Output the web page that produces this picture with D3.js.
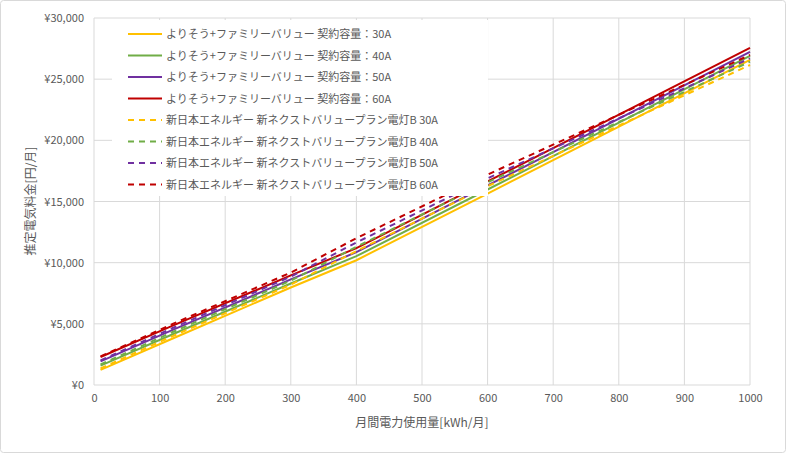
<!DOCTYPE html>
<html><head><meta charset="utf-8">
<script src="https://cdn.jsdelivr.net/npm/d3@7"></script>
<style>body{margin:0;background:#fff;font-family:"Noto Sans CJK JP","Noto Sans",sans-serif;}</style>
</head><body>
<svg id="c" width="786" height="453"></svg>
<script>
const xs = [10, 120, 300, 400, 600, 1000];
const solid30 = [1230, 3800, 7970, 10200, 15650, 26570];
const solid40 = [1580, 4150, 8300, 10530, 15980, 26900];
const solid50 = [1930, 4500, 8630, 10860, 16310, 27230];
const solid60 = [2290, 4850, 8960, 11190, 16640, 27550];
const dash30 = [1350, 4000, 8200, 10950, 16250, 26160];
const dash40 = [1680, 4330, 8530, 11300, 16570, 26430];
const dash50 = [2010, 4660, 8860, 11650, 16890, 26700];
const dash60 = [2340, 4990, 9190, 12000, 17200, 26980];
const names = ["よりそう+ファミリーバリュー 契約容量：30A","よりそう+ファミリーバリュー 契約容量：40A","よりそう+ファミリーバリュー 契約容量：50A","よりそう+ファミリーバリュー 契約容量：60A",
"新日本エネルギー 新ネクストバリュープラン電灯B 30A","新日本エネルギー 新ネクストバリュープラン電灯B 40A","新日本エネルギー 新ネクストバリュープラン電灯B 50A","新日本エネルギー 新ネクストバリュープラン電灯B 60A"];
const colors = ["#FFC000","#70AD47","#7030A0","#C00000"];
const series = [solid30,solid40,solid50,solid60,dash30,dash40,dash50,dash60];
const xTicks = d3.range(0,1001,100);
const yTicks = d3.range(0,30001,5000);

const svg = d3.select("#c");
svg.append("rect").attr("x",0.5).attr("y",0.5).attr("width",785).attr("height",452).attr("rx",3).attr("fill","#fff").attr("stroke","#d9d9d9");
const x = d3.scaleLinear().domain([0,1000]).range([94,750]);
const y = d3.scaleLinear().domain([0,30000]).range([385,18]);
const g = svg.append("g");
g.selectAll(".gx").data(xTicks).join("line").attr("x1",d=>x(d)).attr("x2",d=>x(d)).attr("y1",18).attr("y2",385).attr("stroke","#d9d9d9");
g.selectAll(".gy").data(yTicks).join("line").attr("x1",94).attr("x2",750).attr("y1",d=>y(d)).attr("y2",d=>y(d)).attr("stroke","#d9d9d9");
const ax = svg.append("g").attr("transform","translate(0,385)").call(d3.axisBottom(x).tickValues(xTicks).tickSize(0).tickPadding(9).tickFormat(d=>String(d)));
ax.select(".domain").remove();
const ay = svg.append("g").attr("transform","translate(94,0)").call(d3.axisLeft(y).tickValues(yTicks).tickSize(0).tickPadding(10).tickFormat(d=>"¥"+d3.format(",")(d)));
ay.select(".domain").remove();
svg.selectAll(".tick text").attr("fill","#595959").attr("font-size",11).attr("font-family","Noto Sans CJK JP");
const line = d3.line().x((d,i)=>x(xs[i])).y(d=>y(d));
series.forEach((s,i)=>{
  svg.append("path").attr("d",line(s)).attr("fill","none").attr("stroke",colors[i%4]).attr("stroke-width",2)
   .attr("stroke-dasharray", i>=4 ? "6,5" : null);
});
svg.append("rect").attr("x",112).attr("y",20).attr("width",376).attr("height",176).attr("fill","#fff");
names.forEach((n,i)=>{
  const ly = 34 + i*21.5;
  svg.append("line").attr("x1",128).attr("x2",162).attr("y1",ly).attr("y2",ly).attr("stroke",colors[i%4]).attr("stroke-width",2).attr("stroke-dasharray", i>=4 ? "6,5" : null);
  svg.append("text").attr("x",166).attr("y",ly+4).attr("font-size",11).attr("fill","#595959").text(n);
});
svg.append("text").attr("x",422).attr("y",427).attr("text-anchor","middle").attr("font-size",12).attr("fill","#595959").text("月間電力使用量[kWh/月]");
svg.append("text").attr("transform","translate(35,201) rotate(-90)").attr("text-anchor","middle").attr("font-size",12).attr("fill","#595959").text("推定電気料金[円/月]");
</script>
</body></html>
